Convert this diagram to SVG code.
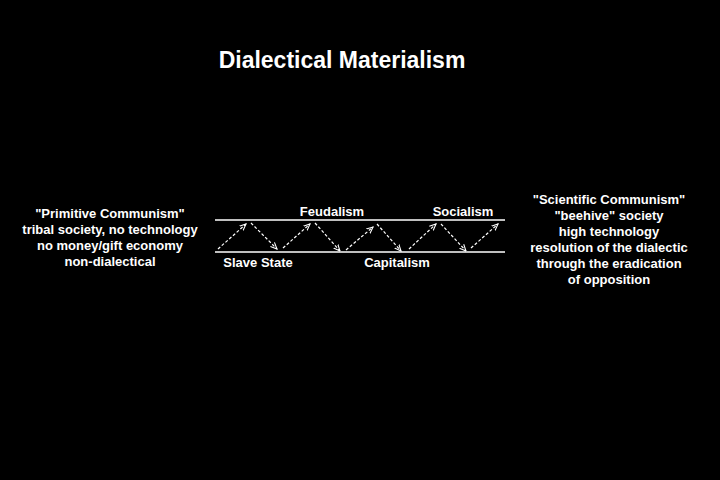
<svg xmlns="http://www.w3.org/2000/svg" width="720" height="480" viewBox="0 0 720 480">
<style>
text{font-family:"Liberation Sans",Arial,sans-serif;font-weight:bold;fill:#fff;font-size:13px;text-anchor:middle}
.a{stroke:#fff;stroke-width:1.2;stroke-dasharray:3,2;fill:none;marker-end:url(#h)}
.l{stroke:#fff;stroke-width:1.5}
</style>
<defs><marker id="h" viewBox="0 0 10 10" refX="9" refY="5" markerWidth="6" markerHeight="6" orient="auto"><path d="M0,1 L9,5 L0,9" fill="none" stroke="#fff" stroke-width="1.5"/></marker></defs>
<rect width="720" height="480" fill="#000"/>
<text x="342" y="68" style="font-size:23px">Dialectical Materialism</text>
<g id="left"><text x="110" y="218">"Primitive Communism"</text><text x="110" y="234">tribal society, no technology</text><text x="110" y="250">no money/gift economy</text><text x="110" y="266">non-dialectical</text></g>
<g id="right"><text x="609" y="204">"Scientific Communism"</text><text x="609" y="220">"beehive" society</text><text x="609" y="236">high technology</text><text x="609" y="252">resolution of the dialectic</text><text x="609" y="268">through the eradication</text><text x="609" y="284">of opposition</text></g>
<g id="stages"><text x="332" y="216">Feudalism</text><text x="463" y="216">Socialism</text><text x="258" y="267">Slave State</text><text x="397" y="267">Capitalism</text></g>
<g id="connectors">
<line class="l" x1="215" y1="220" x2="505" y2="220"/><line class="l" x1="215" y1="252" x2="505" y2="252"/>
<path class="a" d="M218,249L246,224"/><path class="a" d="M251,223L277,249"/><path class="a" d="M283,248L310,224"/><path class="a" d="M315,223L340,251"/><path class="a" d="M346,250L373,227"/><path class="a" d="M377,224L401,251"/><path class="a" d="M409,249L436,224"/><path class="a" d="M441,224L466,251"/><path class="a" d="M471,248L498,224"/>
</g>
</svg>
